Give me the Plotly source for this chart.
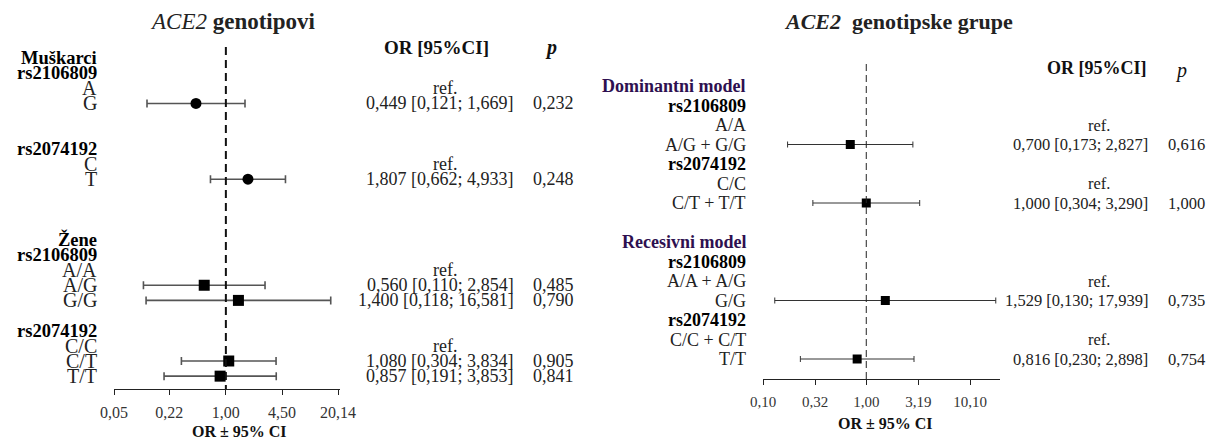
import math
import plotly.graph_objects as go

W, H = 1214, 439
FONT = "Liberation Serif"

# ---- Left panel: ACE2 genotypes by sex ----
left_labels = ["Muškarci", "rs2106809", "A", "G", "", "", "rs2074192", "C", "T",
               "", "", "", "Žene", "rs2106809", "A/A", "A/G", "G/G", "",
               "rs2074192", "C/C", "C/T", "T/T"]
left_or = [None, None, "ref", 0.449, None, None, None, "ref", 1.807,
           None, None, None, None, None, "ref", 0.560, 1.400, None,
           None, "ref", 1.080, 0.857]
left_lo = [None, None, None, 0.121, None, None, None, None, 0.662,
           None, None, None, None, None, None, 0.110, 0.118, None,
           None, None, 0.304, 0.191]
left_hi = [None, None, None, 1.669, None, None, None, None, 4.933,
           None, None, None, None, None, None, 2.854, 16.581, None,
           None, None, 3.834, 3.853]
left_p = [None, None, None, 0.232, None, None, None, None, 0.248,
          None, None, None, None, None, None, 0.485, 0.790, None,
          None, None, 0.905, 0.841]
left_headers = ["Muškarci", "Žene"]
left_ticks = [0.05, 0.22, 1.00, 4.50, 20.14]

# ---- Right panel: ACE2 genotype groups (dominant / recessive model) ----
right_labels = ["Dominantni model", "rs2106809", "A/A", "A/G + G/G", "rs2074192",
                "C/C", "C/T + T/T", "", "Recesivni model", "rs2106809",
                "A/A + A/G", "G/G", "rs2074192", "C/C + C/T", "T/T"]
right_or = [None, None, "ref", 0.700, None, "ref", 1.000, None,
            None, None, "ref", 1.529, None, "ref", 0.816]
right_lo = [None, None, None, 0.173, None, None, 0.304, None,
            None, None, None, 0.130, None, None, 0.230]
right_hi = [None, None, None, 2.827, None, None, 3.290, None,
            None, None, None, 17.939, None, None, 2.898]
right_p = [None, None, None, 0.616, None, None, 1.000, None,
           None, None, None, 0.735, None, None, 0.754]
right_headers = ["Dominantni model", "Recesivni model"]
right_ticks = [0.10, 0.32, 1.00, 3.19, 10.10]


def px(x):
    return x / W


def py(y):
    return 1 - y / H


def fmt(v):
    return f"{v:.3f}".replace(".", ",")


def tick_fmt(v):
    return f"{v:.2f}".replace(".", ",")


# pixel geometry of the two panels
L_ROW0, L_STEP = 58.0, 15.15
R_ROW0, R_STEP = 86.0, 19.5
L_AXIS_Y, R_AXIS_Y = 389, 379

fig = go.Figure()
annotations = []
shapes = []


def add_panel(labels, ors, los, his, ps, headers, xa, ya, opts):
    est_idx = [i for i, v in enumerate(ors) if isinstance(v, float)]
    split = labels.index(headers[1])
    groups = [[i for i in est_idx if i < split], [i for i in est_idx if i > split]]
    for g, idx in enumerate(groups):
        xs = [ors[i] for i in idx]
        fig.add_trace(go.Scatter(
            x=xs, y=idx, xaxis=xa, yaxis=ya, mode="markers",
            marker=dict(symbol=opts["symbols"][g], size=opts["msize"][g], color="black",
                        line=dict(width=0)),
            error_x=dict(type="data", symmetric=False,
                         array=[his[i] - ors[i] for i in idx],
                         arrayminus=[ors[i] - los[i] for i in idx],
                         color=opts["ecolor"], thickness=opts["ethick"],
                         width=opts["ecap"]),
            showlegend=False, hoverinfo="skip"))
    yref = "y" if ya == "y" else "y2"
    for i, lab in enumerate(labels):
        if not lab:
            continue
        is_head = lab in headers
        bold = is_head or lab.startswith("rs")
        color = opts["head_color"] if is_head else ("black" if bold else "#222")
        annotations.append(dict(
            x=px(opts["label_x"]), xref="paper", y=i, yref=yref,
            text=f"<b>{lab}</b>" if bold else lab, showarrow=False,
            xanchor="right", yanchor="middle",
            font=dict(family=FONT, size=opts["bsize"] if bold else opts["lsize"],
                      color=color)))
        v = ors[i]
        if v == "ref":
            annotations.append(dict(
                x=px(opts["ref_x"]), xref="paper", y=i, yref=yref, text="ref.",
                showarrow=False, xanchor="center", yanchor="middle",
                font=dict(family=FONT, size=opts["vsize"], color="#222")))
        elif isinstance(v, float):
            annotations.append(dict(
                x=px(opts["or_right"]), xref="paper", y=i, yref=yref,
                text=f"{fmt(v)} [{fmt(los[i])}; {fmt(his[i])}]",
                showarrow=False, xanchor="right", yanchor="middle",
                font=dict(family=FONT, size=opts["vsize"], color="#222")))
            annotations.append(dict(
                x=px(opts["p_left"]), xref="paper", y=i, yref=yref,
                text=fmt(ps[i]), showarrow=False, xanchor="left", yanchor="middle",
                font=dict(family=FONT, size=opts["vsize"], color="#222")))


add_panel(left_labels, left_or, left_lo, left_hi, left_p, left_headers, "x", "y",
          dict(symbols=["circle", "square"], msize=[11, 11], ecolor="#555",
               ethick=1.6, ecap=4, head_color="black", label_x=99,
               ref_x=445, or_right=516, p_left=531, vsize=18, bsize=18.5, lsize=20))
add_panel(right_labels, right_or, right_lo, right_hi, right_p, right_headers, "x2", "y2",
          dict(symbols=["square", "square"], msize=[9, 9], ecolor="#333",
               ethick=1, ecap=3, head_color="#2e1050", label_x=748,
               ref_x=1099, or_right=1150, p_left=1166, vsize=16.5, bsize=18, lsize=18))

# reference lines at OR = 1
shapes.append(dict(type="line", xref="x", yref="paper", x0=1, x1=1,
                   y0=py(47), y1=py(L_AXIS_Y),
                   line=dict(color="#111", width=2, dash="8px,5px")))
shapes.append(dict(type="line", xref="x2", yref="paper", x0=1, x1=1,
                   y0=py(64), y1=py(R_AXIS_Y),
                   line=dict(color="#222", width=1, dash="7px,4px")))

# titles and column headers
annotations += [
    dict(x=px(233), y=py(22), xref="paper", yref="paper", showarrow=False,
         text="<i>ACE2</i> <b>genotipovi</b>", xanchor="center", yanchor="middle",
         font=dict(family=FONT, size=23, color="#222")),
    dict(x=px(898), y=py(22), xref="paper", yref="paper", showarrow=False,
         text="<b><i>ACE2</i></b>  <b>genotipske grupe</b>", xanchor="center", yanchor="middle",
         font=dict(family=FONT, size=22, color="#222")),
    dict(x=px(436), y=py(47), xref="paper", yref="paper", showarrow=False,
         text="<b>OR [95%CI]</b>", xanchor="center", yanchor="middle",
         font=dict(family=FONT, size=19, color="#111")),
    dict(x=px(551), y=py(47), xref="paper", yref="paper", showarrow=False,
         text="<b><i>p</i></b>", xanchor="center", yanchor="middle",
         font=dict(family=FONT, size=20, color="#111")),
    dict(x=px(1097), y=py(68), xref="paper", yref="paper", showarrow=False,
         text="<b>OR [95%CI]</b>", xanchor="center", yanchor="middle",
         font=dict(family=FONT, size=18, color="#111")),
    dict(x=px(1181), y=py(70), xref="paper", yref="paper", showarrow=False,
         text="<i>p</i>", xanchor="center", yanchor="middle",
         font=dict(family=FONT, size=20, color="#111")),
    dict(x=px(239), y=py(431), xref="paper", yref="paper", showarrow=False,
         text="<b>OR ± 95% CI</b>", xanchor="center", yanchor="middle",
         font=dict(family=FONT, size=16, color="#111")),
    dict(x=px(885), y=py(423), xref="paper", yref="paper", showarrow=False,
         text="<b>OR ± 95% CI</b>", xanchor="center", yanchor="middle",
         font=dict(family=FONT, size=16, color="#111")),
]

l_lo_lg, l_hi_lg = math.log10(left_ticks[0]), math.log10(left_ticks[-1])
l_ppd = (338 - 114) / (l_hi_lg - l_lo_lg)
r_lo_lg = math.log10(right_ticks[0])
r_ppd = (970 - 763) / (math.log10(right_ticks[-1]) - r_lo_lg)

axis_common = dict(type="log", anchor="free", automargin=False, showgrid=False,
                   zeroline=False, showline=True, linecolor="#222", linewidth=1.2,
                   ticks="outside", ticklen=5, tickcolor="#222", tickwidth=1.2,
                   ticklabelstandoff=4)

fig.update_layout(
    template="none",
    width=W, height=H, margin=dict(l=0, r=0, t=0, b=0, pad=0, autoexpand=False),
    paper_bgcolor="white", plot_bgcolor="white", showlegend=False,
    xaxis=dict(domain=[px(114), px(340)], position=py(L_AXIS_Y),
               range=[l_lo_lg, l_lo_lg + (340 - 114) / l_ppd],
               tickvals=left_ticks, ticktext=[tick_fmt(v) for v in left_ticks],
               tickfont=dict(family=FONT, size=16, color="#333"), **axis_common),
    yaxis=dict(domain=[0, 1], anchor="x", visible=False, automargin=False,
               range=[(H - L_ROW0) / L_STEP, -L_ROW0 / L_STEP]),
    xaxis2=dict(domain=[px(763), px(1000)], position=py(R_AXIS_Y),
                range=[r_lo_lg, r_lo_lg + (1000 - 763) / r_ppd],
                tickvals=right_ticks, ticktext=[tick_fmt(v) for v in right_ticks],
                tickfont=dict(family=FONT, size=15, color="#333"), **axis_common),
    yaxis2=dict(domain=[0, 1], anchor="x2", visible=False, automargin=False,
                range=[(H - R_ROW0) / R_STEP, -R_ROW0 / R_STEP]),
    annotations=annotations, shapes=shapes,
)

fig.write_html("out.html")
